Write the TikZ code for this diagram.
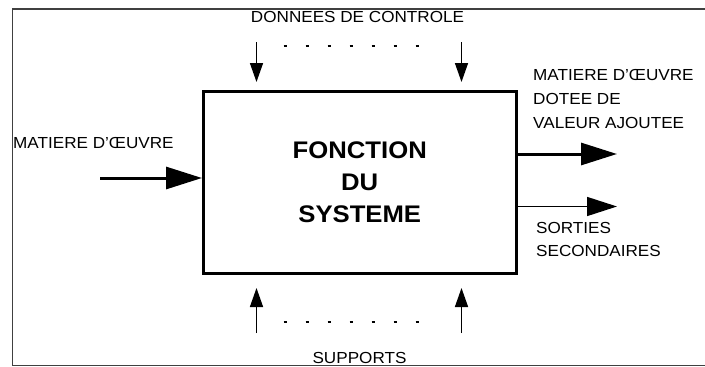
\documentclass[tikz,border=0pt]{standalone}
\usepackage{fontspec}
\setmainfont{Liberation Sans}[FakeStretch=1.07]
\usetikzlibrary{arrows.meta}
\begin{document}
\begin{tikzpicture}[x=1pt,y=-1pt,
  lbl/.style={font=\fontsize{16}{19}\selectfont, inner sep=0pt},
  mainbox/.style={draw, line width=3pt, minimum width=312.5pt, minimum height=182pt, inner sep=0pt,
    align=center, font=\bfseries\fontsize{24}{32}\selectfont},
  bigarrow/.style={line width=3pt, -{Triangle[length=36pt,width=22pt]}},
  secarrow/.style={line width=1.5pt, -{Triangle[length=30pt,width=19pt]}},
  vertarrow/.style={line width=1.5pt, -{Triangle[length=19pt,width=13pt]}},
  dots/.style={line width=1.5pt, dash pattern=on 3pt off 19pt},
  frame/.style={line width=1.5pt, draw=black!75}
]
\useasboundingbox (0,0) rectangle (705,367);
% outer frame (open on the right)
\draw[frame] (705,9) -- (12.5,9) -- (12.5,365.5) -- (705,365.5);

% main box
\node[mainbox] (box) at (359.75,182) {FONCTION\\DU\\SYSTEME};

% input
\node[lbl, anchor=west] (inlbl) at (13,143) {MATIERE D'ŒUVRE};
\coordinate (intail) at (100,178);
\draw[bigarrow] (intail) -- (intail -| box.west);

% outputs
\coordinate (out1) at (617,154);
\coordinate (out2) at (617,206.5);
\draw[bigarrow] (out1 -| box.east) -- (out1);
\draw[secarrow] (out2 -| box.east) -- (out2);
\node[lbl, anchor=west] (o1a) at (533,75) {MATIERE D'ŒUVRE};
\node[lbl, anchor=west] (o1b) at (533,99) {DOTEE DE};
\node[lbl, anchor=west] (o1c) at (533,123) {VALEUR AJOUTEE};
\node[lbl, anchor=west] (o2a) at (536,228) {SORTIES};
\node[lbl, anchor=west] (o2b) at (536,251) {SECONDAIRES};

% control data (top)
\node[lbl] (ctrl) at (357.5,17) {DONNEES DE CONTROLE};
\coordinate (c1t) at (256.5,42);
\coordinate (c1h) at (256.5,82);
\coordinate (c2t) at (461.5,42);
\coordinate (c2h) at (461.5,82);
\draw[vertarrow] (c1t) -- (c1h);
\draw[vertarrow] (c2t) -- (c2h);
\coordinate (d1a) at (283.5,46);
\coordinate (d1b) at (421,46);
\draw[dots] (d1a) -- (d1b);

% supports (bottom)
\node[lbl] (supp) at (359.5,358) {SUPPORTS};
\coordinate (s1t) at (256.5,333);
\coordinate (s1h) at (256.5,288);
\coordinate (s2t) at (461.5,333);
\coordinate (s2h) at (461.5,288);
\draw[vertarrow] (s1t) -- (s1h);
\draw[vertarrow] (s2t) -- (s2h);
\coordinate (d2a) at (283.5,322);
\coordinate (d2b) at (421,322);
\draw[dots] (d2a) -- (d2b);
\end{tikzpicture}
\end{document}
